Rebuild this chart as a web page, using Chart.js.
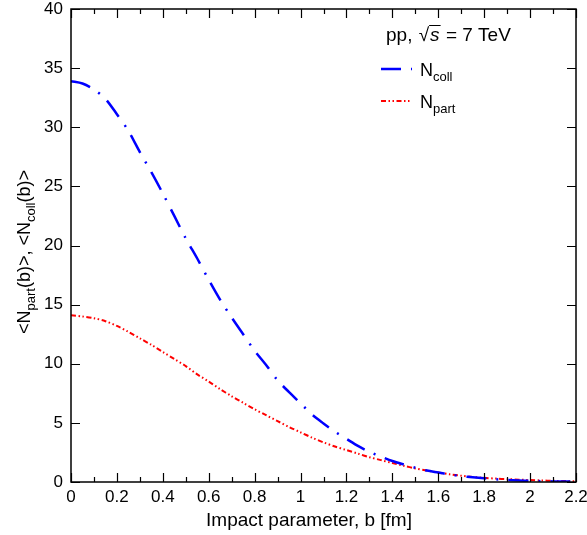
<!DOCTYPE html>
<html lang="en">
<head>
  <meta charset="UTF-8">
  <title>Npart and Ncoll vs impact parameter</title>
  <script src="https://cdn.jsdelivr.net/npm/chart.js"></script>
  <style>
    html, body { margin: 0; padding: 0; background: #fff; }
    #wrap { width: 587px; height: 535px; }
  </style>
</head>
<body>
  <div id="wrap"><canvas id="nChart"></canvas></div>

  <script>
    // impact parameter b [fm]
    const bValues = [0, 0.05, 0.1, 0.15, 0.2, 0.25, 0.3, 0.35, 0.4, 0.45, 0.5, 0.55, 0.6, 0.65, 0.7, 0.75,
      0.8, 0.85, 0.9, 0.95, 1.0, 1.05, 1.1, 1.15, 1.2, 1.25, 1.3, 1.35, 1.4, 1.45, 1.5, 1.55,
      1.6, 1.65, 1.7, 1.75, 1.8, 1.85, 1.9, 1.95, 2.0, 2.05, 2.1, 2.15, 2.2];

    // <Ncoll(b)>
    const nColl = [33.9, 33.7, 33.2, 32.4, 31.1, 29.7, 27.9, 26.2, 24.4, 22.5, 20.6, 18.9, 17.1, 15.4, 13.9, 12.5,
      11.1, 9.9, 8.6, 7.6, 6.65, 5.7, 4.95, 4.25, 3.65, 3.05, 2.55, 2.15, 1.78, 1.48, 1.2, 0.97,
      0.8, 0.63, 0.5, 0.4, 0.31, 0.23, 0.17, 0.13, 0.1, 0.07, 0.05, 0.04, 0.03];

    // <Npart(b)>
    const nPart = [14.1, 14.0, 13.85, 13.6, 13.2, 12.7, 12.15, 11.6, 11.0, 10.4, 9.8, 9.1, 8.5, 7.85, 7.25, 6.7,
      6.15, 5.65, 5.15, 4.65, 4.2, 3.75, 3.35, 3.0, 2.7, 2.4, 2.1, 1.85, 1.6, 1.37, 1.15, 0.97,
      0.8, 0.65, 0.53, 0.43, 0.35, 0.29, 0.24, 0.2, 0.16, 0.13, 0.1, 0.08, 0.06];

    const xMin = 0, xMax = 2.2, xStep = 0.2, xMinorStep = 0.1;
    const yMin = 0, yMax = 40, yStep = 5;

    const FONT = '"Liberation Sans", Arial, Helvetica, sans-serif';
    const collDash = [20, 10, 2, 10];
    const partDash = [5, 2.5, 1.5, 2.5, 1.5, 2.5];

    const toPoints = (ys) => bValues.map((b, i) => ({ x: b, y: ys[i] }));

    // draws the frame, inward ticks, legend and both axis titles
    const decorations = {
      id: 'decorations',
      afterDatasetsDraw(chart) {
        const ctx = chart.ctx;
        const { left, right, top, bottom } = chart.chartArea;
        const xs = chart.scales.x, ys = chart.scales.y;
        ctx.save();

        // frame
        ctx.strokeStyle = '#000';
        ctx.lineWidth = 1.5;
        ctx.setLineDash([]);
        ctx.strokeRect(left, top, right - left, bottom - top);

        // x ticks, bottom and top, pointing inward
        ctx.lineWidth = 1.2;
        ctx.beginPath();
        for (let k = 0; k * xMinorStep <= xMax + 1e-9; k++) {
          const v = k * xMinorStep;
          const px = Math.round(xs.getPixelForValue(v)) + 0.5;
          const len = (k % 2 === 0) ? 9 : 5;
          ctx.moveTo(px, bottom); ctx.lineTo(px, bottom - len);
          ctx.moveTo(px, top); ctx.lineTo(px, top + len);
        }
        // y ticks, left and right
        for (let v = yMin; v <= yMax; v += yStep) {
          const py = Math.round(ys.getPixelForValue(v)) + 0.5;
          ctx.moveTo(left, py); ctx.lineTo(left + 9, py);
          ctx.moveTo(right, py); ctx.lineTo(right - 9, py);
        }
        ctx.stroke();

        // legend header: pp, sqrt(s) = 7 TeV
        ctx.fillStyle = '#000';
        ctx.textBaseline = 'alphabetic';
        ctx.textAlign = 'left';
        const ty = 41;
        let tx = 386;
        ctx.font = '19px ' + FONT;
        ctx.fillText('pp, ', tx, ty);
        tx += ctx.measureText('pp, ').width + 1;
        ctx.fillText('\u221A', tx, ty);
        tx += ctx.measureText('\u221A').width;
        ctx.font = 'italic 19px ' + FONT;
        const sW = ctx.measureText('s').width;
        ctx.fillText('s', tx + 1, ty);
        ctx.lineWidth = 1;
        ctx.beginPath();
        ctx.moveTo(tx, ty - 15.5); ctx.lineTo(tx + sW + 2, ty - 15.5);
        ctx.stroke();
        tx += sW + 2;
        ctx.font = '19px ' + FONT;
        ctx.fillText(' = 7 TeV', tx, ty);

        // legend entries
        const entries = [
          { main: 'N', sub: 'coll', color: '#0000ff', dash: collDash, width: 2.5, y: 69 },
          { main: 'N', sub: 'part', color: '#ff0000', dash: partDash, width: 2, y: 101 }
        ];
        entries.forEach(e => {
          ctx.strokeStyle = e.color;
          ctx.lineWidth = e.width;
          ctx.setLineDash(e.dash);
          ctx.beginPath();
          ctx.moveTo(381, e.y); ctx.lineTo(412, e.y);
          ctx.stroke();
          ctx.setLineDash([]);
          ctx.fillStyle = '#000';
          ctx.font = '18px ' + FONT;
          ctx.fillText(e.main, 420, e.y + 7);
          const w = ctx.measureText(e.main).width;
          ctx.font = '13px ' + FONT;
          ctx.fillText(e.sub, 420 + w, e.y + 12);
        });

        // x axis title
        ctx.font = '19px ' + FONT;
        ctx.textAlign = 'center';
        ctx.fillText('Impact parameter, b [fm]', 309, 526);
        ctx.textAlign = 'left';

        // y axis title, rotated, with subscripts
        const parts = [
          ['<N', false], ['part', true], ['(b)>, <N', false], ['coll', true], ['(b)>', false]
        ];
        const mainFont = '18px ' + FONT, subFont = '13px ' + FONT;
        let total = 0;
        parts.forEach(p => { ctx.font = p[1] ? subFont : mainFont; total += ctx.measureText(p[0]).width; });
        ctx.translate(30, 252);
        ctx.rotate(-Math.PI / 2);
        let cx = -total / 2;
        parts.forEach(p => {
          ctx.font = p[1] ? subFont : mainFont;
          ctx.fillText(p[0], cx, p[1] ? 5 : 0);
          cx += ctx.measureText(p[0]).width;
        });

        ctx.restore();
      }
    };

    const ctx = document.getElementById('nChart').getContext('2d');
    new Chart(ctx, {
      type: 'line',
      data: {
        datasets: [{
          label: 'Ncoll',
          data: toPoints(nColl),
          borderColor: '#0000ff',
          borderWidth: 2.5,
          borderDash: collDash,
          pointRadius: 0,
          tension: 0.3,
          fill: false
        }, {
          label: 'Npart',
          data: toPoints(nPart),
          borderColor: '#ff0000',
          borderWidth: 2,
          borderDash: partDash,
          pointRadius: 0,
          tension: 0.3,
          fill: false
        }]
      },
      options: {
        responsive: true,
        maintainAspectRatio: false,
        animation: false,
        layout: { padding: { top: 9, right: 11, left: 0, bottom: 0 } },
        plugins: {
          legend: { display: false },
          tooltip: { enabled: false }
        },
        scales: {
          x: {
            type: 'linear',
            min: xMin,
            max: xMax,
            grid: { display: false, drawTicks: false },
            border: { display: false },
            ticks: {
              stepSize: xStep,
              padding: 5,
              color: '#000',
              font: { family: FONT, size: 17 },
              maxRotation: 0,
              callback: (v) => String(Number(v.toFixed(1)))
            },
            afterFit: (s) => { s.height = 53; s.paddingLeft = 0; s.paddingRight = 0; }
          },
          y: {
            min: yMin,
            max: yMax,
            grid: { display: false, drawTicks: false },
            border: { display: false },
            ticks: {
              stepSize: yStep,
              padding: 8,
              color: '#000',
              font: { family: FONT, size: 17 }
            },
            afterFit: (s) => { s.width = 71; s.paddingTop = 0; s.paddingBottom = 0; }
          }
        }
      },
      plugins: [decorations]
    });
  </script>
</body>
</html>
